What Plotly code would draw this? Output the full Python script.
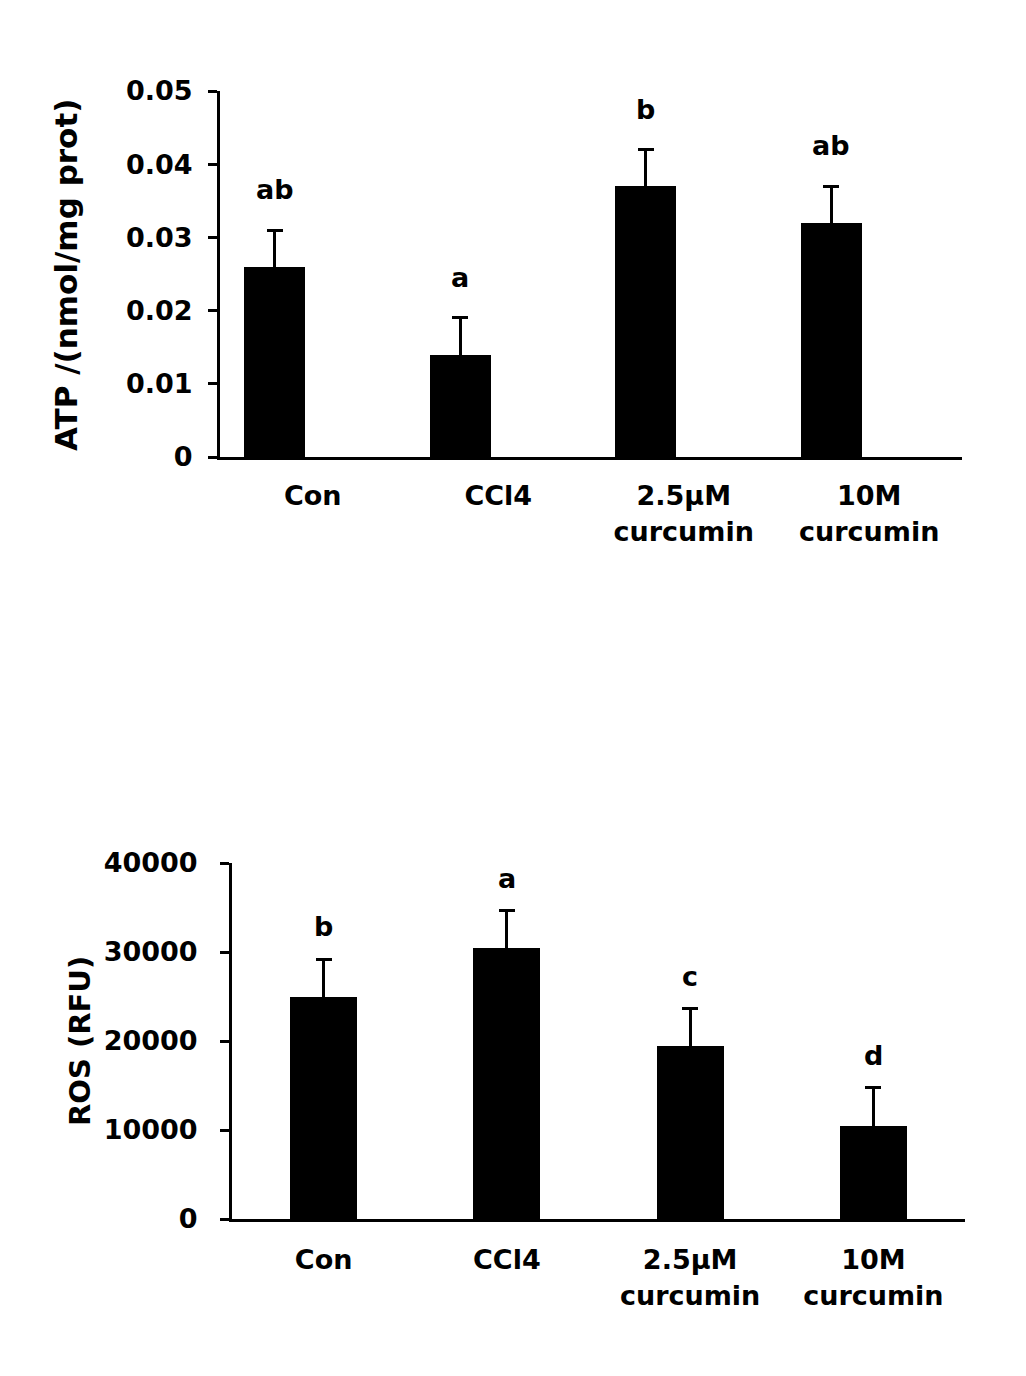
import plotly.graph_objects as go

# ---------------- data ----------------
categories = ["Con", "CCl4", "2.5μM curcumin", "10M curcumin"]
tick_labels = ["Con", "CCl4", "2.5μM<br>curcumin", "10M<br>curcumin"]

atp_values = [0.026, 0.014, 0.037, 0.032]
atp_errors = [0.005, 0.005, 0.005, 0.005]
atp_letters = ["ab", "a", "b", "ab"]
atp_tick_vals = [0, 0.01, 0.02, 0.03, 0.04, 0.05]
atp_tick_text = ["0", "0.01", "0.02", "0.03", "0.04", "0.05"]
atp_title = "ATP /(nmol/mg prot)"

ros_values = [24900, 30400, 19400, 10500]
ros_errors = [4300, 4250, 4250, 4250]
ros_letters = ["b", "a", "c", "d"]
ros_tick_vals = [0, 10000, 20000, 30000, 40000]
ros_tick_text = ["0", "10000", "20000", "30000", "40000"]
ros_title = "ROS (RFU)"

# ---------------- style ----------------
W, H = 1026, 1376
FONT = "DejaVu Sans"
TICK_SIZE = 27
LETTER_SIZE = 27
LW = 3

pos = list(range(len(categories)))

# top panel bar geometry (bars shifted left of category centre)
top_width = 0.329
top_offset = -0.37
top_center_shift = top_offset + top_width / 2
bot_width = 0.366


def px(v, total):
    return v / total


fig = go.Figure()

fig.add_trace(go.Bar(
    x=pos, y=atp_values, width=top_width, offset=top_offset,
    marker=dict(color="black", line=dict(width=0)),
    error_y=dict(type="data", array=atp_errors, symmetric=True,
                 color="black", thickness=3, width=8),
    xaxis="x", yaxis="y", showlegend=False, hoverinfo="x+y",
))

fig.add_trace(go.Bar(
    x=pos, y=ros_values, width=bot_width,
    marker=dict(color="black", line=dict(width=0)),
    error_y=dict(type="data", array=ros_errors, symmetric=True,
                 color="black", thickness=3, width=8),
    xaxis="x2", yaxis="y2", showlegend=False, hoverinfo="x+y",
))

tickfont = dict(family=FONT, size=TICK_SIZE, color="black", weight="bold")

common_x = dict(showgrid=False, zeroline=False, showline=True, linecolor="black",
                linewidth=LW, ticks="", tickfont=tickfont, fixedrange=True,
                automargin=False)
common_y = dict(showgrid=False, zeroline=False, showline=True, linecolor="black",
                linewidth=LW, ticks="outside", ticklen=9, tickwidth=LW, tickcolor="black",
                tickfont=tickfont, fixedrange=True, automargin=False)

fig.update_layout(
    width=W, height=H,
    margin=dict(l=0, r=0, t=0, b=0, pad=0, autoexpand=False),
    paper_bgcolor="white", plot_bgcolor="white",
    bargap=0,
    xaxis=dict(common_x, domain=[px(220, W), px(962, W)], range=[-0.5, 3.5],
               tickmode="array", tickvals=pos, ticktext=tick_labels,
               anchor="y", ticklabelstandoff=13),
    yaxis=dict(common_y, domain=[1 - px(457, H), 1 - px(91, H)], range=[0, 0.05],
               tickmode="array", tickvals=atp_tick_vals, ticktext=atp_tick_text,
               anchor="x", ticklabelstandoff=10),
    xaxis2=dict(common_x, domain=[px(232, W), px(965, W)], range=[-0.5, 3.5],
                tickmode="array", tickvals=pos, ticktext=tick_labels,
                anchor="y2", ticklabelstandoff=15),
    yaxis2=dict(common_y, domain=[1 - px(1219, H), 1 - px(863, H)], range=[0, 40000],
                tickmode="array", tickvals=ros_tick_vals, ticktext=ros_tick_text,
                anchor="x2", ticklabelstandoff=17),
)

letter_font = dict(family=FONT, size=LETTER_SIZE, color="black", weight="bold")
annotations = []
for i, (v, e, t) in enumerate(zip(atp_values, atp_errors, atp_letters)):
    annotations.append(dict(x=i + top_center_shift, y=v + e, xref="x", yref="y",
                            text=t, showarrow=False, yanchor="bottom", yshift=23,
                            font=letter_font))
for i, (v, e, t) in enumerate(zip(ros_values, ros_errors, ros_letters)):
    annotations.append(dict(x=i, y=v + e, xref="x2", yref="y2",
                            text=t, showarrow=False, yanchor="bottom", yshift=15,
                            font=letter_font))

annotations.append(dict(x=px(66, W), y=1 - px(275, H), xref="paper", yref="paper",
                        text=atp_title, textangle=-90, showarrow=False,
                        xanchor="center", yanchor="middle",
                        font=dict(family=FONT, size=31, color="black", weight="bold")))
annotations.append(dict(x=px(80, W), y=1 - px(1041, H), xref="paper", yref="paper",
                        text=ros_title, textangle=-90, showarrow=False,
                        xanchor="center", yanchor="middle",
                        font=dict(family=FONT, size=29, color="black", weight="bold")))

fig.update_layout(annotations=annotations)

fig.write_html("out.html", config={"displayModeBar": False})
